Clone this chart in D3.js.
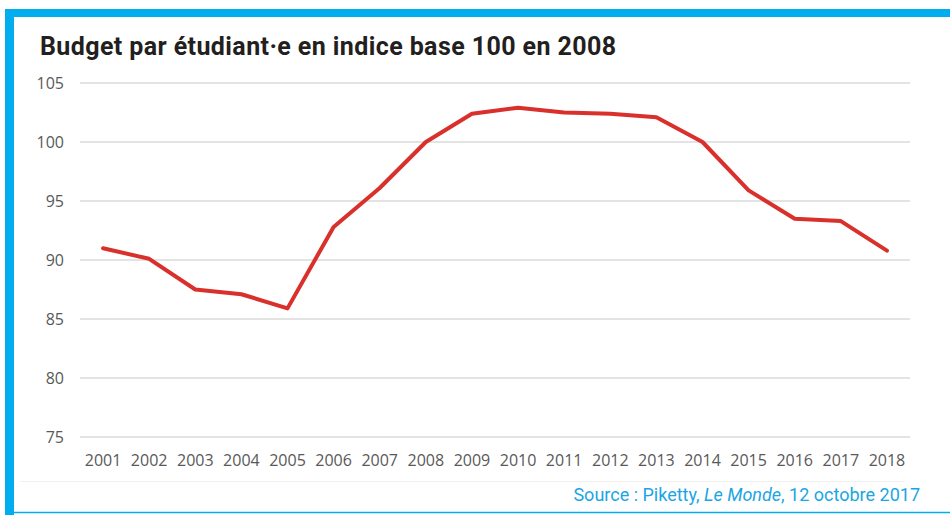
<!DOCTYPE html>
<html>
<head>
<meta charset="utf-8">
<script src="https://cdn.jsdelivr.net/npm/d3@7"></script>
<style>
  body { margin: 0; background: #fff; }
  svg { display: block; }
</style>
</head>
<body>
<div id="chart"></div>
<script>
// Data
const years = ['2001', '2002', '2003', '2004', '2005', '2006', '2007', '2008', '2009',
               '2010', '2011', '2012', '2013', '2014', '2015', '2016', '2017', '2018'];
const budgetIndex = [91.0, 90.1, 87.5, 87.1, 85.9, 92.8, 96.1, 100.0, 102.4,
                     102.9, 102.5, 102.4, 102.1, 100.0, 95.9, 93.5, 93.3, 90.8];
const yTicks = [75, 80, 85, 90, 95, 100, 105];

const W = 950, H = 515;
const blue = '#00aeef';

const svg = d3.select('#chart').append('svg')
    .attr('width', W)
    .attr('height', H);

// Frame: top bar, left bar, thin bottom line
svg.append('rect').attr('x', 5).attr('y', 9).attr('width', W - 5).attr('height', 8).attr('fill', blue);
svg.append('rect').attr('x', 5).attr('y', 9).attr('width', 9).attr('height', H - 9).attr('fill', blue);
svg.append('line')
    .attr('x1', 14).attr('x2', W)
    .attr('y1', 512.5).attr('y2', 512.5)
    .attr('stroke', blue).attr('stroke-width', 1.5);

// Title
svg.append('text')
    .attr('x', 40)
    .attr('y', 55)
    .style('font-family', 'Roboto, sans-serif')
    .style('font-weight', 'bold')
    .style('font-size', '25px')
    .style('letter-spacing', '0.4px')
    .attr('fill', '#231f20')
    .text('Budget par étudiant·e en indice base 100 en 2008');

const x = d3.scaleBand()
    .domain(years)
    .range([80, 910]);

const y = d3.scaleLinear()
    .domain([75, 105])
    .range([437, 83]);

// Gridlines
svg.append('g')
    .selectAll('line')
    .data(yTicks)
    .join('line')
    .attr('x1', 80)
    .attr('x2', 910)
    .attr('y1', d => y(d))
    .attr('y2', d => y(d))
    .attr('stroke', '#e3e3e3')
    .attr('stroke-width', 2);

// Y axis labels
const yAxis = svg.append('g')
    .attr('transform', 'translate(64,0)')
    .call(d3.axisLeft(y).tickValues(yTicks).tickSize(0).tickPadding(0));
yAxis.select('.domain').remove();
yAxis.selectAll('text')
    .style('font-family', '"Open Sans", sans-serif')
    .style('font-size', '16px')
    .attr('fill', '#595959');

// X axis labels
const xAxis = svg.append('g')
    .attr('transform', 'translate(0,455)')
    .call(d3.axisBottom(x).tickSize(0).tickPadding(0));
xAxis.select('.domain').remove();
xAxis.selectAll('text')
    .style('font-family', '"Open Sans", sans-serif')
    .style('font-size', '16px')
    .attr('fill', '#595959');

// faint separator under the axis labels
svg.append('line')
    .attr('x1', 20).attr('x2', 905)
    .attr('y1', 481.5).attr('y2', 481.5)
    .attr('stroke', '#f0f0f0')
    .attr('stroke-width', 1);

// Line
const line = d3.line()
    .x((d, i) => x(years[i]) + x.bandwidth() / 2)
    .y(d => y(d));

svg.append('path')
    .datum(budgetIndex)
    .attr('d', line)
    .attr('fill', 'none')
    .attr('stroke', '#d9302c')
    .attr('stroke-width', 4)
    .attr('stroke-linejoin', 'round')
    .attr('stroke-linecap', 'round');

// Source
const source = svg.append('text')
    .attr('x', 920)
    .attr('y', 501)
    .attr('text-anchor', 'end')
    .style('font-family', 'Roboto, sans-serif')
    .style('font-size', '18px')
    .attr('fill', '#1aa6e4');
source.append('tspan').text('Source : Piketty, ');
source.append('tspan').style('font-style', 'italic').text('Le Monde');
source.append('tspan').text(', 12 octobre 2017');
</script>
</body>
</html>
